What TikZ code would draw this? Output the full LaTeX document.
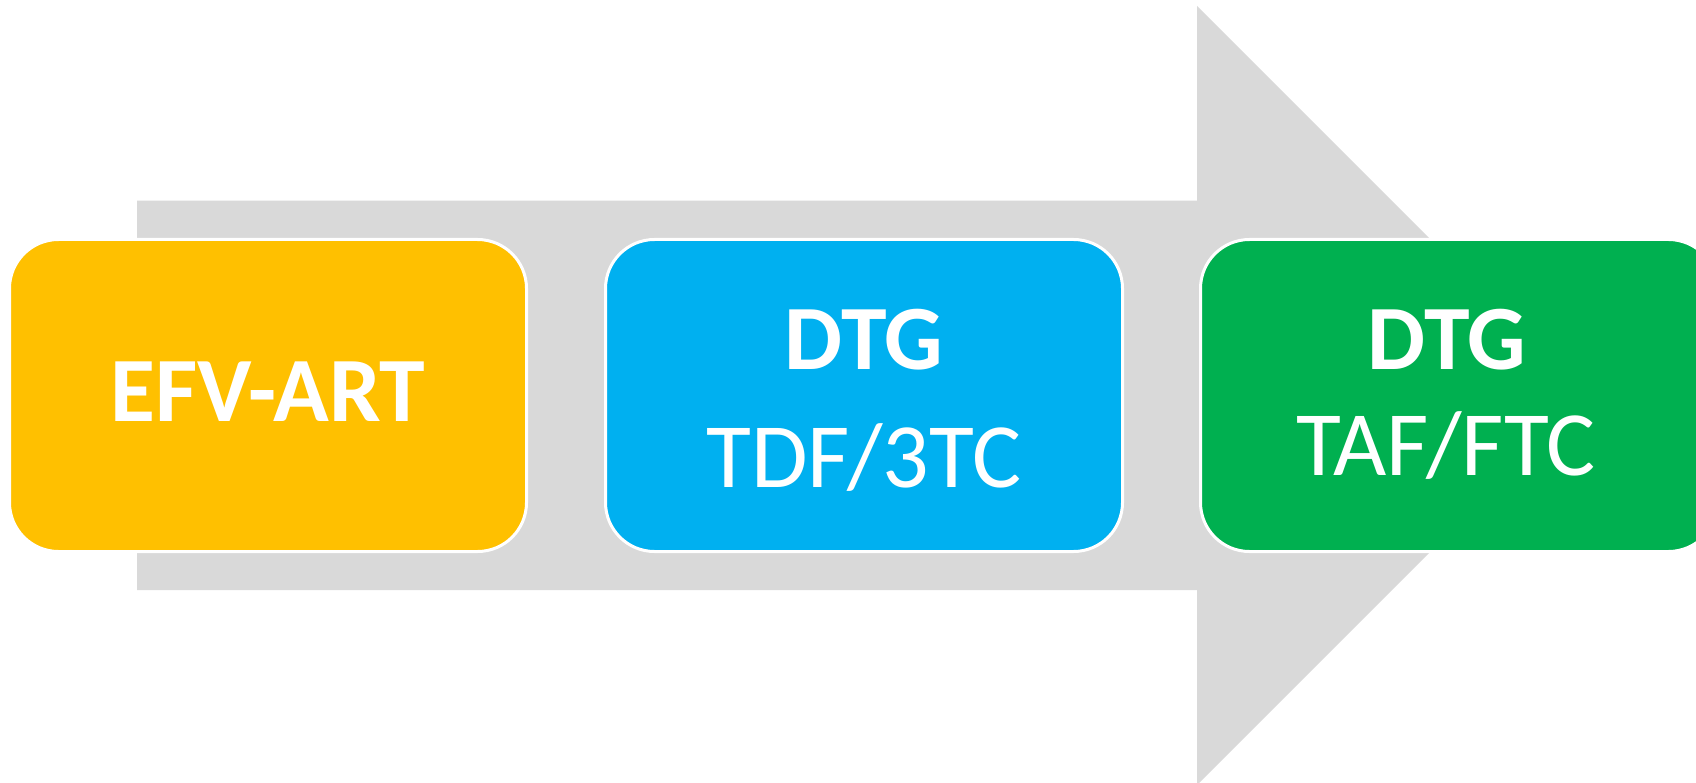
\documentclass[tikz,border=0pt]{standalone}
\usepackage{fontspec}
\setmainfont{Carlito}
\definecolor{shaftgray}{HTML}{D9D9D9}
\definecolor{stepyellow}{HTML}{FFC000}
\definecolor{stepblue}{HTML}{00B0F0}
\definecolor{stepgreen}{HTML}{00B050}
\tikzset{
  stagebox/.style={draw=white, line width=3pt, rounded corners=49pt,
    minimum width=517pt, minimum height=312pt, anchor=north west,
    inner sep=0pt, outer sep=0pt},
  headtext/.style={text=white, font=\fontsize{92}{100}\selectfont\bfseries, anchor=base, inner sep=0pt},
  subtext/.style={text=white, font=\fontsize{92}{100}\selectfont, anchor=base, inner sep=0pt},
}
\begin{document}
\begin{tikzpicture}[x=1pt, y=-1pt]
  \useasboundingbox (0,0) rectangle (1696,783);
  \clip (0,0) rectangle (1696,783);
  \fill[white] (0,0) rectangle (1696,783);

  % background progress arrow
  \fill[shaftgray] (137,200.7) -- (1197,200.7) -- (1197,6) -- (1586.5,395.5)
    -- (1197,785) -- (1197,590) -- (137,590) -- cycle;

  % stage boxes
  \node[stagebox, fill=stepyellow] (efv) at (9.5,239.5) {};
  \node[stagebox, fill=stepblue]   (tdf) at (605.5,239.5) {};
  \node[stagebox, fill=stepgreen]  (taf) at (1200.5,239.5) {};

  % stage labels
  \node[headtext] (efvname) at (268,421) {EFV-ART};
  \node[headtext] (tdfhead) at (864,369) {DTG};
  \node[subtext]  (tdfsub)  at (864,487) {TDF/3TC};
  \node[headtext] (tafhead) at (1447,369) {DTG};
  \node[subtext]  (tafsub)  at (1446,475) {TAF/FTC};
\end{tikzpicture}
\end{document}
